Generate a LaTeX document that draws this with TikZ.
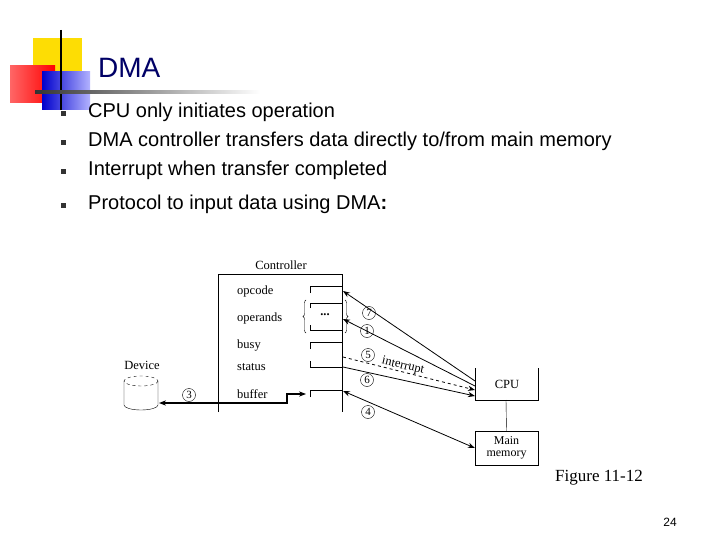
\documentclass[tikz,border=0pt]{standalone}
\usepackage{fontspec}
\setmainfont{Liberation Sans}
\newfontfamily\ser{Liberation Serif}
\usetikzlibrary{shapes.geometric,arrows.meta,decorations.pathreplacing}
\begin{document}
\begin{tikzpicture}[x=1pt,y=-1pt,
 lbl/.style={font=\ser\fontsize{12.5}{14}\selectfont,inner sep=0pt},
 circ/.style={circle,draw,minimum size=13pt,inner sep=0pt,font=\ser\fontsize{11}{11}\selectfont},
 bul/.style={fill=black!80,minimum size=5pt,inner sep=0pt},
 btxt/.style={anchor=west,font=\fontsize{20}{22}\selectfont,inner sep=0pt},
 reg/.style={line width=0.6pt},
 arr/.style={-{Stealth[length=7pt]},line width=0.8pt}]
\useasboundingbox (0,0) rectangle (720,540);
% logo
\fill[yellow!80!orange] (33,38) rectangle (82,85);
\shade[left color=red!60!white,right color=red] (10,66) rectangle (55,103);
\shade[left color=blue!80!black,right color=blue!30!white] (42,72) rectangle (90,110);
\draw[line width=1.5pt] (61,30) -- (61,110);
\shade[left color=black!80,right color=white] (35,91) rectangle (260,94);
\node[font=\fontsize{28}{30}\selectfont,text=blue!40!black,anchor=west,inner sep=0pt] (title) at (98,68) {DMA};
% bullets
\foreach \y/\t [count=\i] in {112/{CPU only initiates operation},141/{DMA controller transfers data directly to/from main memory},170/{Interrupt when transfer completed},204/{Protocol to input data using DMA\textbf{:}}}{
 \node[bul] (b\i) at (63,\y+2) {};
 \node[btxt] (t\i) at (88,\y) {\t};}
% controller
\draw (218,412) -- (218,274) -- (342,274) -- (342,412);
\node[lbl] (ctl) at (281,265) {Controller};
\node[lbl,anchor=west] (op) at (237,291) {opcode};
\node[lbl,anchor=west] (opr) at (237,318) {operands};
\node[lbl,anchor=west] (busy) at (237,346) {busy};
\node[lbl,anchor=west] (st) at (237,367) {status};
\node[lbl,anchor=west] (buf) at (237,394) {buffer};
\draw[reg] (310,293) -- (310,286) -- (342,286);
\draw[reg] (310,308) -- (310,303) -- (342,303);
\draw[reg] (310,325) -- (310,330) -- (342,330);
\draw[line width=1pt] (310,349) -- (310,342) -- (342,342);
\draw[reg] (310,361) -- (310,367) -- (342,367);
\draw[reg] (310,397) -- (310,390) -- (342,390);
\node[lbl] (dots) at (325,315) {\textbf{...}};
\draw[decorate,decoration={brace,amplitude=3pt}] (306,333) -- (306,300);
\draw[decorate,decoration={brace,amplitude=3pt}] (345,300) -- (345,333);
\coordinate (cop) at (343,291);
\coordinate (copr) at (343,319);
\coordinate (cint) at (343,357);
\coordinate (cst) at (343,367);
\coordinate (cbuf) at (343,391);
% CPU and memory
\draw (475,368) -- (475,400) -- (538,400) -- (538,368);
\node[lbl] (cpu) at (507,384) {CPU};
\node[draw,minimum width=63pt,minimum height=34pt,align=center,inner sep=0pt,font=\ser\fontsize{12}{12}\selectfont] (mem) at (506.5,448) {Main\\memory};
\draw (506,400) -- (mem.north);
\coordinate (c1) at (475,381);
\coordinate (c2) at (475,386);
\coordinate (c3) at (475,390);
\coordinate (c4) at (475,396);
\draw[arr] (c1) -- (cop);
\draw[arr] (c2) -- (copr);
\draw[arr,dashed] (cint) -- (c3);
\draw[arr] (cst) -- (c4);
\draw[{Stealth[length=7pt]}-{Stealth[length=7pt]},line width=0.8pt] (cbuf) -- (mem.west);
\node[circ] (n7) at (369,313) {7};
\node[circ] (n1) at (367,331) {1};
\node[circ] (n5) at (368,355) {5};
\node[lbl,rotate=-13] (intr) at (403,366) {interrupt};
\node[circ] (n6) at (367,380) {6};
\node[circ] (n4) at (368,412) {4};
% device
\draw (124,381) -- (124,405) arc[start angle=180,end angle=360,x radius=17,y radius=-5] -- (158,381);
\draw[dashed] (141,381) ellipse[x radius=17,y radius=5];
\coordinate (dev) at (159,403);
\node[lbl] (devl) at (142,365) {Device};
\draw[{Stealth[length=7pt]}-{Stealth[length=7pt]},line width=1.3pt] (dev) -- (287,403) -- (287,394) -- (306,394);
\node[circ] (n3) at (189,395) {3};
\node[font=\ser\fontsize{17}{18}\selectfont] (fig) at (599,478) {Figure 11-12};
\node[font=\fontsize{12}{12}\selectfont] (pg) at (670,522) {24};
\end{tikzpicture}
\end{document}
